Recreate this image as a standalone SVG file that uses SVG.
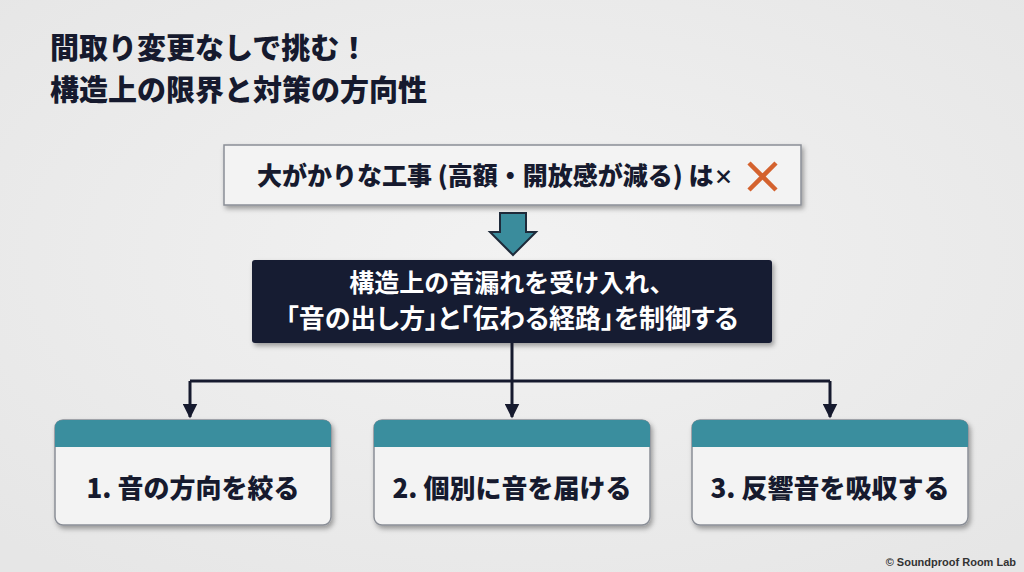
<svg xmlns="http://www.w3.org/2000/svg" width="1024" height="572" viewBox="0 0 1024 572">
<defs>
<filter id="sh" x="-10%" y="-20%" width="120%" height="150%">
<feDropShadow dx="2" dy="3" stdDeviation="2.5" flood-color="#000" flood-opacity="0.35"/>
</filter>
<marker id="ah" viewBox="0 0 10 10" refX="9" refY="5" markerWidth="5" markerHeight="5" orient="auto" markerUnits="strokeWidth">
<path d="M0,0 L10,5 L0,10 z" fill="#161a2e"/>
</marker>
<radialGradient id="bg" cx="50%" cy="45%" r="70%">
<stop offset="0" stop-color="#f2f2f2"/>
<stop offset="1" stop-color="#e6e6e6"/>
</radialGradient>
</defs>
<style>
text{font-family:"Noto Sans CJK JP","Noto Sans",sans-serif;font-weight:900}
.t{fill:#161a2e;font-size:29px}
.w{fill:#ffffff;font-size:25px;font-weight:700}
.w2{fill:#ffffff;font-size:26px;font-weight:700;font-feature-settings:"palt"}
.d{fill:#161a2e;font-size:25px}
.b{fill:#161a2e;font-size:26px}
.card{fill:#f3f3f3;stroke:#8a8e96;stroke-width:1.5}
.conn{stroke:#161a2e;stroke-width:3;fill:none}
</style>
<rect width="1024" height="572" fill="url(#bg)"/>
<g id="title">
<text class="t" x="50" y="59">間取り変更なしで挑む！</text>
<text class="t" x="50" y="101">構造上の限界と対策の方向性</text>
</g>
<g id="top-box">
<rect class="card" x="224" y="145" width="577" height="60" filter="url(#sh)"/>
<text class="d" x="257" y="185">大がかりな工事 (高額・開放感が減る) は<tspan style="font-size:20px">×</tspan></text>
<path d="M749,163 L776,190 M776,163 L749,190" stroke="#d4622e" stroke-width="4.5" stroke-linecap="butt"/>
</g>
<g id="down-arrow">
<path d="M500,213 L526,213 L526,232 L536,232 L513,255 L490,232 L500,232 Z" fill="#3a8c9c" stroke="#1e2a3a" stroke-width="2"/>
</g>
<g id="center-box">
<rect x="252" y="260" width="520" height="83" rx="3" fill="#141a33" filter="url(#sh)"/>
<text class="w" x="512" y="292" text-anchor="middle">構造上の音漏れを受け入れ、</text>
<text class="w2" x="512" y="328" text-anchor="middle">「音の出し方」と「伝わる経路」を制御する</text>
</g>
<g id="connectors">
<path class="conn" d="M512,343 L512,381"/>
<path class="conn" d="M190,381 L830,381"/>
<path class="conn" d="M190,381 L190,417" marker-end="url(#ah)"/>
<path class="conn" d="M512,381 L512,417" marker-end="url(#ah)"/>
<path class="conn" d="M830,381 L830,417" marker-end="url(#ah)"/>
</g>
<g id="box1">
<rect class="card" x="55" y="420" width="276" height="105" rx="8" filter="url(#sh)"/>
<path d="M55,447 L55,428 Q55,420 63,420 L323,420 Q331,420 331,428 L331,447 Z" fill="#3a8e9e"/>
<text class="b" x="193" y="498" text-anchor="middle">1. 音の方向を絞る</text>
</g>
<g id="box2">
<rect class="card" x="374" y="420" width="276" height="105" rx="8" filter="url(#sh)"/>
<path d="M374,447 L374,428 Q374,420 382,420 L642,420 Q650,420 650,428 L650,447 Z" fill="#3a8e9e"/>
<text class="b" x="512" y="498" text-anchor="middle">2. 個別に音を届ける</text>
</g>
<g id="box3">
<rect class="card" x="692" y="420" width="276" height="105" rx="8" filter="url(#sh)"/>
<path d="M692,447 L692,428 Q692,420 700,420 L960,420 Q968,420 968,428 L968,447 Z" fill="#3a8e9e"/>
<text class="b" x="830" y="498" text-anchor="middle">3. 反響音を吸収する</text>
</g>
<text x="1016" y="566" text-anchor="end" style="font-family:'Liberation Sans',sans-serif;font-weight:700;font-size:11px;fill:#333">© Soundproof Room Lab</text>
</svg>
